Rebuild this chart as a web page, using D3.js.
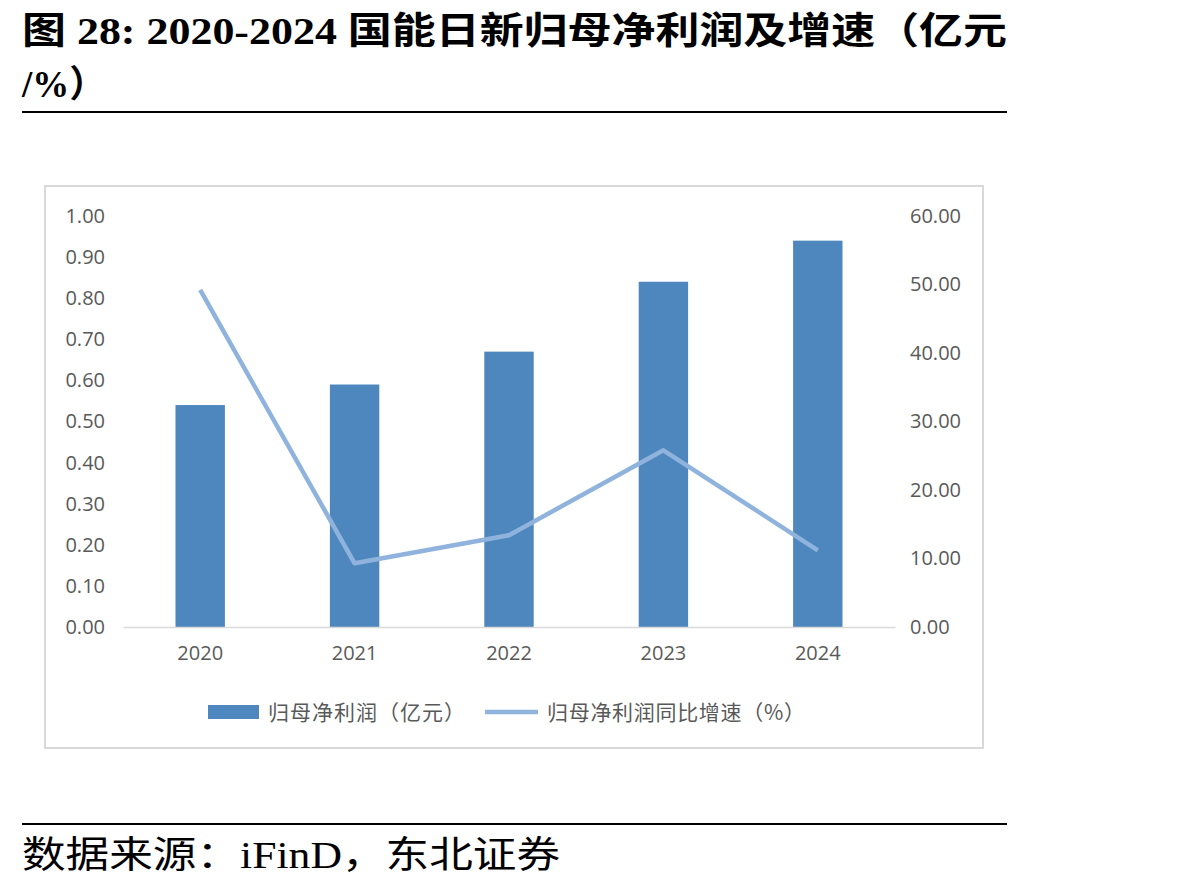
<!DOCTYPE html>
<html>
<head>
<meta charset="utf-8">
<script src="https://cdn.jsdelivr.net/npm/d3@7"></script>
<style>
  body { margin: 0; background: #fff; }
  svg { display: block; }
</style>
</head>
<body>
<script>
var years = ["2020", "2021", "2022", "2023", "2024"];
var profit = [0.54, 0.59, 0.67, 0.84, 0.94];   // 归母净利润（亿元）
var growth = [49.2, 9.3, 13.4, 25.8, 11.2];    // 归母净利润同比增速（%）
var leftTicks = [0, 0.1, 0.2, 0.3, 0.4, 0.5, 0.6, 0.7, 0.8, 0.9, 1.0];
var rightTicks = [0, 10, 20, 30, 40, 50, 60];

var W = 1198, H = 889;
var svg = d3.select("body").append("svg").attr("width", W).attr("height", H);

var serif = "'Liberation Serif', 'Noto Sans CJK SC', serif";
var sans = "'Open Sans', 'Noto Sans CJK SC', sans-serif";
var cjk = "'Noto Sans CJK SC', sans-serif";
var gray = "#595959";

// title
svg.append("text")
  .attr("x", 22).attr("y", 44)
  .attr("font-family", serif).attr("font-weight", "bold").attr("font-size", 37)
  .attr("textLength", 985).attr("lengthAdjust", "spacingAndGlyphs")
  .text("图  28: 2020-2024 国能日新归母净利润及增速（亿元");
svg.append("text")
  .attr("x", 22).attr("y", 97)
  .attr("font-family", serif).attr("font-weight", "bold").attr("font-size", 37)
  .text("/%）");
svg.append("line").attr("x1", 22).attr("x2", 1007).attr("y1", 112).attr("y2", 112)
  .attr("stroke", "#000").attr("stroke-width", 2);

// chart frame
svg.append("rect").attr("x", 45).attr("y", 186).attr("width", 938).attr("height", 562)
  .attr("fill", "#fff").attr("stroke", "#d9d9d9").attr("stroke-width", 2);

var x = d3.scaleBand().domain(years).range([123, 895]).paddingInner(0.68).paddingOuter(0.34);
var yL = d3.scaleLinear().domain([0, 1]).range([627, 216]);
var yR = d3.scaleLinear().domain([0, 60]).range([627, 216]);

// left axis
var gl = svg.append("g").attr("transform", "translate(123,0)")
  .call(d3.axisLeft(yL).tickValues(leftTicks).tickFormat(d3.format(".2f")).tickSize(0).tickPadding(18));
gl.select(".domain").remove();
gl.selectAll("text").attr("font-family", sans).attr("font-size", 20).attr("fill", gray);

// right axis
var gr = svg.append("g").attr("transform", "translate(895,0)")
  .call(d3.axisRight(yR).tickValues(rightTicks).tickFormat(d3.format(".2f")).tickSize(0).tickPadding(15));
gr.select(".domain").remove();
gr.selectAll("text").attr("font-family", sans).attr("font-size", 20).attr("fill", gray);

// bars
svg.append("g").selectAll("rect").data(profit).enter().append("rect")
  .attr("x", function(d, i) { return x(years[i]); })
  .attr("width", x.bandwidth())
  .attr("y", function(d) { return yL(d); })
  .attr("height", function(d) { return yL(0) - yL(d); })
  .attr("fill", "#4e87be");

// x axis
var gx = svg.append("g").attr("transform", "translate(0,627)")
  .call(d3.axisBottom(x).tickSize(0).tickPadding(19));
gx.select(".domain").attr("stroke", "#d9d9d9").attr("stroke-width", 1.5);
gx.selectAll("text").attr("font-family", sans).attr("font-size", 20).attr("fill", gray);

// growth line
var line = d3.line()
  .x(function(d, i) { return x(years[i]) + x.bandwidth() / 2; })
  .y(function(d) { return yR(d); });
svg.append("path").datum(growth).attr("d", line)
  .attr("fill", "none").attr("stroke", "#8fb3dc").attr("stroke-width", 4.5)
  .attr("stroke-linejoin", "round");

// legend
var lg = svg.append("g");
lg.append("rect").attr("x", 208).attr("y", 705).attr("width", 51).attr("height", 14).attr("fill", "#4e87be");
lg.append("text").attr("x", 268).attr("y", 720)
  .attr("font-family", cjk).attr("font-size", 21).attr("fill", gray)
  .attr("textLength", 197).attr("lengthAdjust", "spacing")
  .text("归母净利润（亿元）");
lg.append("line").attr("x1", 485).attr("x2", 538).attr("y1", 712).attr("y2", 712)
  .attr("stroke", "#8fb3dc").attr("stroke-width", 4.5);
lg.append("text").attr("x", 547).attr("y", 720)
  .attr("font-family", cjk).attr("font-size", 21).attr("fill", gray)
  .attr("textLength", 258).attr("lengthAdjust", "spacing")
  .text("归母净利润同比增速（%）");

// source
svg.append("line").attr("x1", 22).attr("x2", 1007).attr("y1", 824).attr("y2", 824)
  .attr("stroke", "#000").attr("stroke-width", 2);
svg.append("text")
  .attr("x", 22).attr("y", 868)
  .attr("font-family", serif).attr("font-size", 37)
  .attr("textLength", 538).attr("lengthAdjust", "spacingAndGlyphs")
  .text("数据来源：iFinD，东北证券");
</script>
</body>
</html>
